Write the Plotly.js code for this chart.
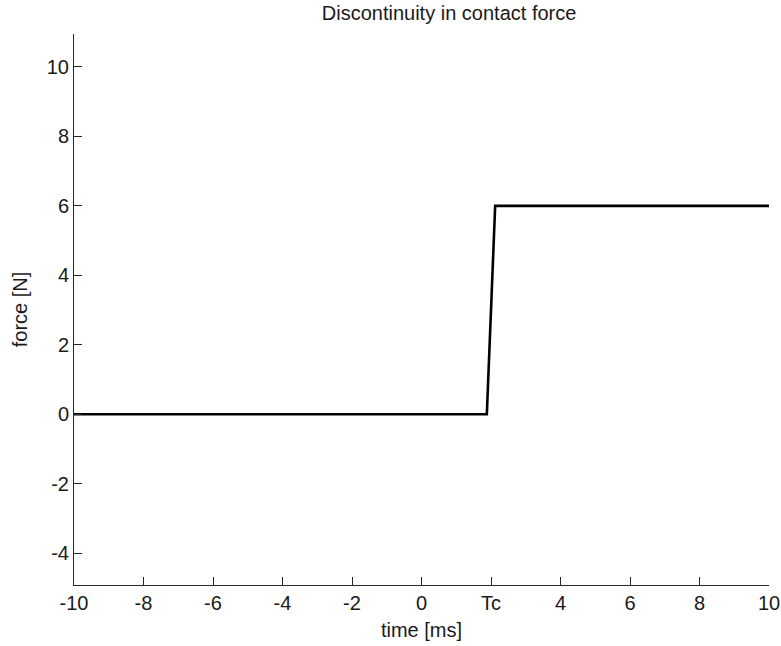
<!DOCTYPE html>
<html>
<head>
<meta charset="utf-8">
<script src="https://cdn.plot.ly/plotly-3.0.1.min.js"></script>
<style>
html,body{margin:0;padding:0;background:#fff;}
#chart{width:781px;height:646px;}
</style>
</head>
<body>
<div id="chart"></div>
<script>
// Data
const timeMs = [-10, 1.88, 2.12, 10];
const forceN = [0, 0, 6, 6];
const xTickVals = [-10, -8, -6, -4, -2, 0, 2, 4, 6, 8, 10];
const xTickText = ['-10', '-8', '-6', '-4', '-2', '0', 'Tc', '4', '6', '8', '10'];
const yTickVals = [-4, -2, 0, 2, 4, 6, 8, 10];
const yTickText = ['-4', '-2', '0', '2', '4', '6', '8', '10'];

const FONT = 'Liberation Sans, Arial, sans-serif';
const SIZE = 20;
const TXT = '#1a1a1a';
const AX = '#262626';

const trace = {
  x: timeMs,
  y: forceN,
  type: 'scatter',
  mode: 'lines',
  line: {color: '#000000', width: 2.6},
  hoverinfo: 'none',
  showlegend: false
};

const layout = {
  width: 781,
  height: 646,
  paper_bgcolor: '#ffffff',
  plot_bgcolor: '#ffffff',
  margin: {l: 74, r: 12, t: 34, b: 61, pad: 0},
  font: {family: FONT, size: SIZE, color: TXT},
  title: {
    text: 'Discontinuity in contact force',
    font: {family: FONT, size: SIZE, color: TXT},
    x: (74 + 769) / 2 / 781,
    xref: 'paper',
    xanchor: 'center',
    y: 1 - 13 / 646,
    yref: 'container',
    yanchor: 'middle'
  },
  xaxis: {
    range: [-10, 10],
    tickmode: 'array',
    tickvals: xTickVals,
    ticktext: xTickText,
    ticks: 'inside',
    ticklen: 8,
    tickwidth: 1,
    tickcolor: AX,
    showline: true,
    linecolor: AX,
    linewidth: 1,
    mirror: false,
    showgrid: false,
    zeroline: false,
    tickfont: {family: FONT, size: SIZE, color: TXT},
    title: {text: 'time [ms]', font: {family: FONT, size: SIZE, color: TXT}, standoff: 9},
    automargin: false,
    fixedrange: true
  },
  yaxis: {
    range: [-4.92, 10.95],
    tickmode: 'array',
    tickvals: yTickVals,
    ticktext: yTickText,
    ticks: 'inside',
    ticklen: 8,
    tickwidth: 1,
    tickcolor: AX,
    showline: true,
    linecolor: AX,
    linewidth: 1,
    mirror: false,
    showgrid: false,
    zeroline: false,
    tickfont: {family: FONT, size: SIZE, color: TXT},
    title: {text: 'force [N]', font: {family: FONT, size: SIZE, color: TXT}, standoff: 13},
    automargin: false,
    fixedrange: true
  }
};

Plotly.newPlot('chart', [trace], layout, {displayModeBar: false, staticPlot: true});
</script>
</body>
</html>
